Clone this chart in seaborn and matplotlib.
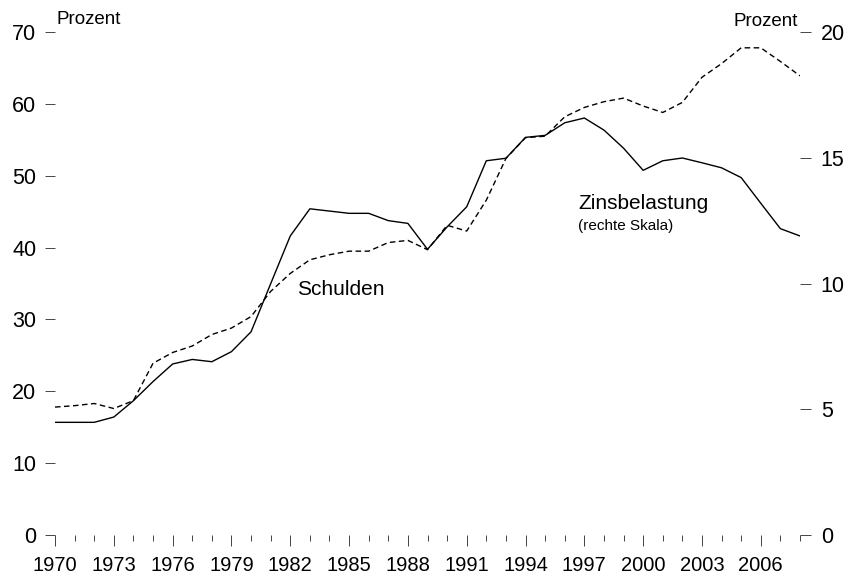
import matplotlib
matplotlib.use("Agg")
import pandas as pd
import matplotlib.pyplot as plt
from matplotlib.ticker import MultipleLocator
import seaborn as sns

years = list(range(1970, 2009))
# Schulden, Prozent (linke Skala)
schulden = [17.8, 18.0, 18.3, 17.6, 18.7, 23.9, 25.4, 26.3, 27.9, 28.8,
            30.4, 33.9, 36.4, 38.3, 39.0, 39.5, 39.5, 40.7, 41.0, 39.7,
            43.1, 42.3, 46.6, 52.4, 55.3, 55.5, 58.2, 59.5, 60.3, 60.8,
            59.7, 58.8, 60.2, 63.7, 65.6, 67.8, 67.8, 65.9, 63.9]
# Zinsbelastung, Prozent (rechte Skala)
zins = [4.48, 4.48, 4.48, 4.69, 5.34, 6.10, 6.80, 6.98, 6.89, 7.29,
        8.08, 9.99, 11.89, 12.97, 12.88, 12.79, 12.79, 12.50, 12.39, 11.36,
        12.25, 13.05, 14.88, 14.98, 15.81, 15.89, 16.39, 16.58, 16.10, 15.38,
        14.50, 14.88, 14.99, 14.80, 14.60, 14.21, 13.19, 12.18, 11.89]

df = pd.DataFrame({"Jahr": years, "Schulden": schulden, "Zins": zins})

sns.set_style("white")
plt.rcParams['font.family'] = ['Liberation Sans', 'DejaVu Sans']
plt.rcParams['text.color'] = 'black'

fig = plt.figure(figsize=(8.48, 5.81), dpi=100)
ax = fig.add_axes([55/848, 46/581, 745/848, 503/581])
ax2 = ax.twinx()

sns.lineplot(data=df, x="Jahr", y="Schulden", ax=ax, color="black", linewidth=1.0)
ax.lines[0].set_dashes((4, 2.5))
sns.lineplot(data=df, x="Jahr", y="Zins", ax=ax2, color="black", linewidth=1.0)

ax.set_xlim(1970, 2008)
ax.set_ylim(0, 70)
ax2.set_ylim(0, 20)
ax.set_xlabel("")
ax.set_ylabel("")
ax2.set_ylabel("")

for a in (ax, ax2):
    for s in a.spines.values():
        s.set_visible(False)

ax.set_yticks(range(0, 71, 10))
ax2.set_yticks(range(0, 21, 5))
ax.xaxis.set_minor_locator(MultipleLocator(1))
ax.set_xticks(range(1970, 2008, 3))

tc = '#444444'
ax.tick_params(axis='y', left=True, length=7.5, width=0.7, pad=6, labelsize=15.5,
               color=tc, labelcolor='black')
ax2.tick_params(axis='y', right=True, length=8, width=0.7, pad=7, labelsize=15.5,
                color=tc, labelcolor='black')
ax.tick_params(axis='x', which='major', bottom=True, length=8, width=0.7, pad=7,
               labelsize=14.5, color=tc, labelcolor='black')
ax.tick_params(axis='x', which='minor', bottom=True, length=4.3, width=0.7, color=tc)

ax.text(1982.35, 34.2, "Schulden", fontsize=15, va='center', ha='left')
ax.text(1996.7, 46.1, "Zinsbelastung", fontsize=15, va='center', ha='left')
ax.text(1996.7, 43.0, "(rechte Skala)", fontsize=11, va='center', ha='left')

fig.text(57/848, 1 - 19.5/581, "Prozent", fontsize=13.5, va='center', ha='left')
fig.text(798/848, 1 - 21/581, "Prozent", fontsize=13.5, va='center', ha='right')

fig.savefig("out.png", dpi=100)
